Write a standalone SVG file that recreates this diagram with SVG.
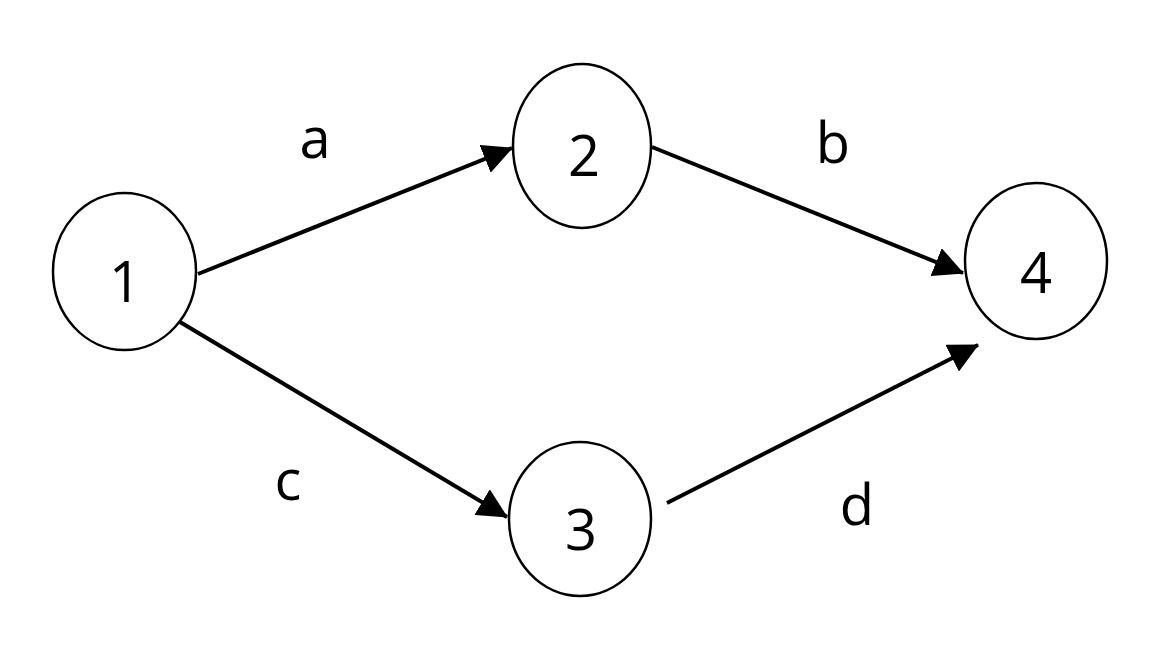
<svg xmlns="http://www.w3.org/2000/svg" width="1152" height="648" viewBox="0 0 1152 648">
  <defs>
    <style>
      .node { fill: #ffffff; stroke: #000000; stroke-width: 2.5; }
      .lbl { font-family: "Open Sans", "Liberation Sans", sans-serif; font-size: 56px; fill: #000000; text-anchor: middle; }
      .edge { stroke: #000000; stroke-width: 4; fill: none; marker-end: url(#arrow); }
    </style>
    <marker id="arrow" viewBox="0 0 30 30" refX="29" refY="15" markerWidth="30" markerHeight="30" markerUnits="userSpaceOnUse" orient="auto">
      <path d="M0,0 L30,15 L0,30 Z" fill="#000000"/>
    </marker>
  </defs>
  <rect width="1152" height="648" fill="#ffffff"/>
  <g id="connectors">
    <line class="edge" x1="198" y1="274" x2="512" y2="148"/>
    <line class="edge" x1="180" y1="322" x2="507" y2="517"/>
    <line class="edge" x1="652" y1="147" x2="963" y2="273"/>
    <line class="edge" x1="667" y1="503" x2="978" y2="345"/>
    <text class="lbl" x="315" y="158">a</text>
    <text class="lbl" x="833" y="163">b</text>
    <text class="lbl" x="288" y="500">c</text>
    <text class="lbl" x="857" y="525">d</text>
  </g>
  <g id="node1">
    <ellipse class="node" cx="124.5" cy="271.5" rx="71.5" ry="78.5"/>
    <text class="lbl" x="125" y="302">1</text>
  </g>
  <g id="node2">
    <ellipse class="node" cx="582" cy="146" rx="69" ry="82"/>
    <text class="lbl" x="584" y="176">2</text>
  </g>
  <g id="node3">
    <ellipse class="node" cx="580" cy="519" rx="71" ry="77"/>
    <text class="lbl" x="581" y="550">3</text>
  </g>
  <g id="node4">
    <ellipse class="node" cx="1036" cy="261" rx="71" ry="78"/>
    <text class="lbl" x="1036" y="293">4</text>
  </g>
</svg>
